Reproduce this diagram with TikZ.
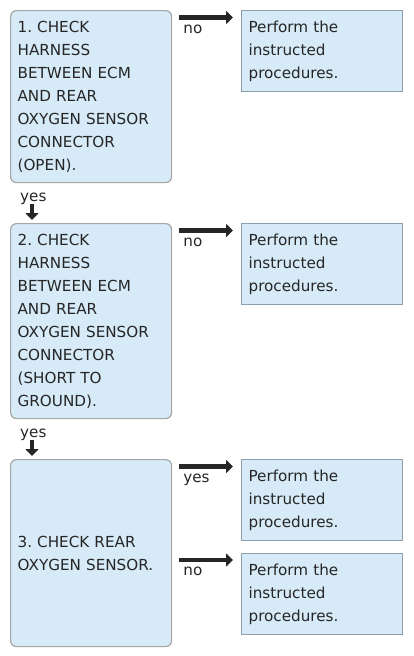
\documentclass[tikz,border=0pt]{standalone}
\usepackage{fontspec}
\setmainfont{DejaVu Sans}
\usetikzlibrary{arrows.meta,positioning}
\definecolor{boxfill}{HTML}{D6EAF8}
\definecolor{boxline}{HTML}{A6A6A6}
\definecolor{resline}{HTML}{8E9EAA}
\definecolor{ink}{HTML}{262626}
\frenchspacing

\begin{document}
\begin{tikzpicture}[x=1pt, y=1pt,
  every node/.style={font=\fontsize{15.2}{23}\selectfont, text=ink},
  check/.style={draw=boxline, line width=1.2pt, fill=boxfill, rounded corners=6pt, anchor=north west, text width=147pt, inner xsep=7pt, align=left},
  result/.style={draw=resline, line width=1.2pt, fill=boxfill, anchor=north west, minimum height=81pt, text width=147pt, inner xsep=7pt, align=left},
  arr/.style={draw=ink, line width=4.8pt, -{Triangle[length=7pt,width=13pt]}},
  lbl/.style={anchor=base west, inner sep=0pt}]
  \useasboundingbox (0,0) rectangle (413,-656);

  \node[check, minimum height=172pt] (chk1) at (10,-10) {1. CHECK\\HARNESS\\BETWEEN ECM\\AND REAR\\OXYGEN SENSOR\\CONNECTOR\\(OPEN).};
  \node[check, minimum height=195pt] (chk2) at (10,-223) {2. CHECK\\HARNESS\\BETWEEN ECM\\AND REAR\\OXYGEN SENSOR\\CONNECTOR\\(SHORT TO\\GROUND).};
  \node[check, minimum height=187pt] (chk3) at (10,-459) {3. CHECK REAR\\OXYGEN SENSOR.};

  \node[result] (res1) at (241,-10) {Perform the\\instructed\\procedures.};
  \node[result] (res2) at (241,-223) {Perform the\\instructed\\procedures.};
  \node[result] (res3) at (241,-459) {Perform the\\instructed\\procedures.};
  \node[result] (res4) at (241,-553) {Perform the\\instructed\\procedures.};

  % side branches
  \draw[arr] ([shift={(7pt,-7.5pt)}]chk1.north east) -- ([shift={(-8pt,-7.5pt)}]res1.north west);
  \node[lbl] (no1) at ([shift={(11pt,-23pt)}]chk1.north east) {no};
  \draw[arr] ([shift={(7pt,-7.5pt)}]chk2.north east) -- ([shift={(-8pt,-7.5pt)}]res2.north west);
  \node[lbl] (no2) at ([shift={(11pt,-23pt)}]chk2.north east) {no};
  \draw[arr] ([shift={(7pt,-7.5pt)}]chk3.north east) -- ([shift={(-8pt,-7.5pt)}]res3.north west);
  \node[lbl] (yes3) at ([shift={(11pt,-23pt)}]chk3.north east) {yes};
  \draw[arr] ([shift={(7pt,-7pt)}]chk3.east |- res4.north) -- ([shift={(-8pt,-7pt)}]res4.north west);
  \node[lbl] (no3) at ([shift={(11pt,-22pt)}]chk3.east |- res4.north) {no};

  % main line
  \draw[arr] ([shift={(22pt,-21pt)}]chk1.south west) -- ([shift={(22pt,3pt)}]chk2.north west);
  \node[lbl] (yes1) at ([shift={(10pt,-18pt)}]chk1.south west) {yes};
  \draw[arr] ([shift={(22pt,-21pt)}]chk2.south west) -- ([shift={(22pt,3pt)}]chk3.north west);
  \node[lbl] (yes2) at ([shift={(10pt,-18pt)}]chk2.south west) {yes};
\end{tikzpicture}
\end{document}
